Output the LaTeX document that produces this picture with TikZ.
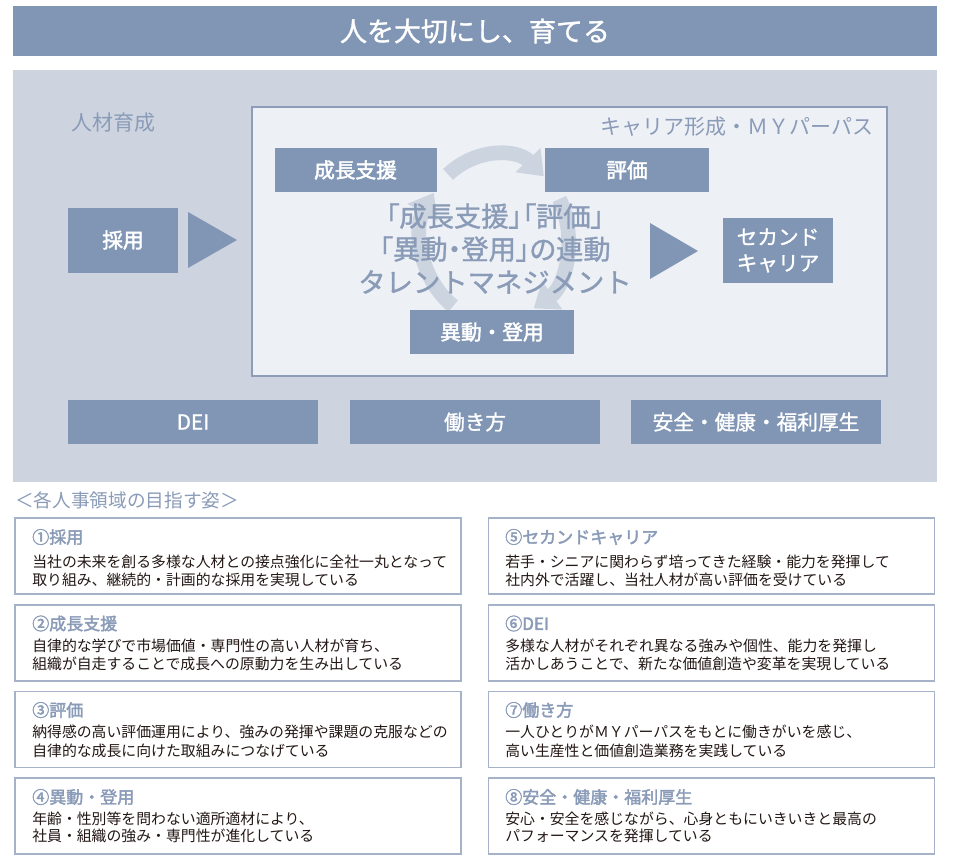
\documentclass[tikz,border=0pt]{standalone}
\usepackage{fontspec}
\setmainfont{Noto Sans CJK JP}
\newfontfamily\medfont[FakeBold=2.2]{Noto Sans CJK JP}
\newfontfamily\semifont[FakeBold=1.2]{Noto Sans CJK JP}
\usetikzlibrary{arrows.meta}
\definecolor{darkc}{HTML}{8096B4}
\definecolor{panelc}{HTML}{CDD4E0}
\definecolor{innerc}{HTML}{EDF0F5}
\definecolor{innerline}{HTML}{8D9CB8}
\definecolor{cycc}{HTML}{CCD4E0}
\definecolor{grayt}{HTML}{8A9BB8}
\definecolor{boxline}{HTML}{A6B2C7}
\definecolor{bodyt}{HTML}{231815}
\newcommand{\fs}[2]{\fontsize{#1}{#2}\selectfont}
\newcommand{\palton}{\addfontfeatures{RawFeature=+palt}}
\tikzset{
  barbox/.style={fill=darkc, text=white, inner sep=0pt, minimum width=693pt, minimum height=37.5pt, font=\semifont\fs{20.25}{24}},
  panelbox/.style={fill=panelc, inner sep=0pt, minimum width=693pt, minimum height=309pt},
  careerbox/.style={fill=innerc, draw=innerline, line width=0.8pt, inner sep=0pt, minimum width=476.25pt, minimum height=201.75pt},
  darkbox/.style={fill=darkc, text=white, inner sep=0pt, align=center, font=\medfont\fs{15.5}{19.5}},
  graylbl/.style={text=grayt, inner sep=0pt, font=\fs{15.75}{18}},
  cyc/.style={draw=cycc, line width=11pt, -{Triangle[length=17pt,width=25pt]}},
  tri/.style={fill=darkc},
  cyctext/.style={text=grayt, inner sep=0pt, align=center, font=\semifont\fs{20.5}{24.75}},
  descbox/.style={draw=boxline, fill=white, line width=1pt, inner sep=0pt, minimum width=334.5pt, minimum height=57pt},
  desctitle/.style={text=grayt, inner sep=0pt, anchor=west, font=\medfont\fs{12.75}{15}},
  descbody/.style={text=bodyt, inner sep=0pt, anchor=west, font=\fs{11.15}{13}},
}
\begin{document}
\begin{tikzpicture}[x=0.75pt,y=-0.75pt]
\useasboundingbox (0,0) rectangle (953,861);
\fill[white] (0,0) rectangle (953,861);

% header
\node[barbox] (title) at (475,31) {人を大切にし、育てる};

% panel
\node[panelbox] (panel) at (475,276) {};
\node[careerbox] (career) at (569.5,241.5) {};
\node[graylbl, anchor=west] (jinzai) at (71,123) {人材育成};
\node[graylbl, anchor=east] (careerlbl) at (874,127) {キャリア形成・ＭＹパーパス};

% cycle arrows
\coordinate (cc) at (495,238);
\draw[cyc] (cc) ++(-130:73 and 83) arc[start angle=-130, end angle=-48, x radius=73, y radius=83];
\draw[cyc] (cc) ++(-28:73 and 83) arc[start angle=-28, end angle=58, x radius=73, y radius=83];
\draw[cyc] (cc) ++(125:73 and 83) arc[start angle=125, end angle=213, x radius=73, y radius=83];

% centre text
\node[cyctext] (cycle) at (495,248.5) {{\palton 「成長支援」「評価」}\\{\palton 「異動・登用」の連動}\\タレントマネジメント};

% boxes
\node[darkbox, minimum width=121.5pt, minimum height=33pt] (seicho) at (355.5,170) {成長支援};
\node[darkbox, minimum width=123pt, minimum height=33pt] (hyoka) at (627,170) {評価};
\node[darkbox, minimum width=123pt, minimum height=33pt] (ido) at (492,332) {異動・登用};
\node[darkbox, minimum width=82.5pt, minimum height=48.75pt, font=\semifont\fs{15.5}{19.5}] (second) at (778,250.5) {セカンド\\キャリア};
\node[darkbox, minimum width=82.5pt, minimum height=48.75pt] (saiyo) at (123,240) {採用};
\node[darkbox, minimum width=187.5pt, minimum height=33pt, font=\semifont\fs{15.5}{19.5}] (dei) at (193,422) {DEI};
\node[darkbox, minimum width=187.5pt, minimum height=33pt, font=\semifont\fs{15.5}{19.5}] (hataraki) at (475,422) {働き方};
\node[darkbox, minimum width=187.5pt, minimum height=33pt, font=\semifont\fs{15.5}{19.5}] (anzen) at (756,422) {安全・健康・福利厚生};

% triangles
\fill[tri] (188,212) -- (237,240) -- (188,268) -- cycle;
\fill[tri] (650,223) -- (698,251) -- (650,279) -- cycle;

% lower section
\node[graylbl, anchor=west, font=\fs{14}{17}] (mezasu) at (15,500) {＜各人事領域の目指す姿＞};

\node[descbox] (b1) at (238,556) {};
\node[desctitle] (b1t) at (32,537) {①採用};
\node[descbody] (b1a) at (32,561.5) {当社の未来を創る多様な人材との接点強化に全社一丸となって};
\node[descbody] (b1b) at (32,579.5) {取り組み、継続的・計画的な採用を実現している};

\node[descbox] (b2) at (238,643) {};
\node[desctitle] (b2t) at (32,623.5) {②成長支援};
\node[descbody] (b2a) at (32,645.5) {自律的な学びで市場価値・専門性の高い人材が育ち、};
\node[descbody] (b2b) at (32,663.5) {組織が自走することで成長への原動力を生み出している};

\node[descbox] (b3) at (238,729.5) {};
\node[desctitle] (b3t) at (32,710) {③評価};
\node[descbody] (b3a) at (32,732) {納得感の高い評価運用により、強みの発揮や課題の克服などの};
\node[descbody] (b3b) at (32,750.5) {自律的な成長に向けた取組みにつなげている};

\node[descbox] (b4) at (238,816) {};
\node[desctitle] (b4t) at (32,797) {④異動・登用};
\node[descbody] (b4a) at (32,819) {年齢・性別等を問わない適所適材により、};
\node[descbody] (b4b) at (32,836) {社員・組織の強み・専門性が進化している};

\node[descbox] (b5) at (711.5,556) {};
\node[desctitle] (b5t) at (505,537) {⑤セカンドキャリア};
\node[descbody] (b5a) at (505,561.5) {若手・シニアに関わらず培ってきた経験・能力を発揮して};
\node[descbody] (b5b) at (505,579.5) {社内外で活躍し、当社人材が高い評価を受けている};

\node[descbox] (b6) at (711.5,643) {};
\node[desctitle] (b6t) at (505,623.5) {⑥DEI};
\node[descbody] (b6a) at (505,645.5) {多様な人材がそれぞれ異なる強みや個性、能力を発揮し};
\node[descbody] (b6b) at (505,663.5) {活かしあうことで、新たな価値創造や変革を実現している};

\node[descbox] (b7) at (711.5,729.5) {};
\node[desctitle] (b7t) at (505,710) {⑦働き方};
\node[descbody] (b7a) at (505,732) {一人ひとりがＭＹパーパスをもとに働きがいを感じ、};
\node[descbody] (b7b) at (505,750.5) {高い生産性と価値創造業務を実践している};

\node[descbox] (b8) at (711.5,816) {};
\node[desctitle] (b8t) at (505,797) {⑧安全・健康・福利厚生};
\node[descbody] (b8a) at (505,819) {安心・安全を感じながら、心身ともにいきいきと最高の};
\node[descbody] (b8b) at (505,836) {パフォーマンスを発揮している};
\end{tikzpicture}
\end{document}
